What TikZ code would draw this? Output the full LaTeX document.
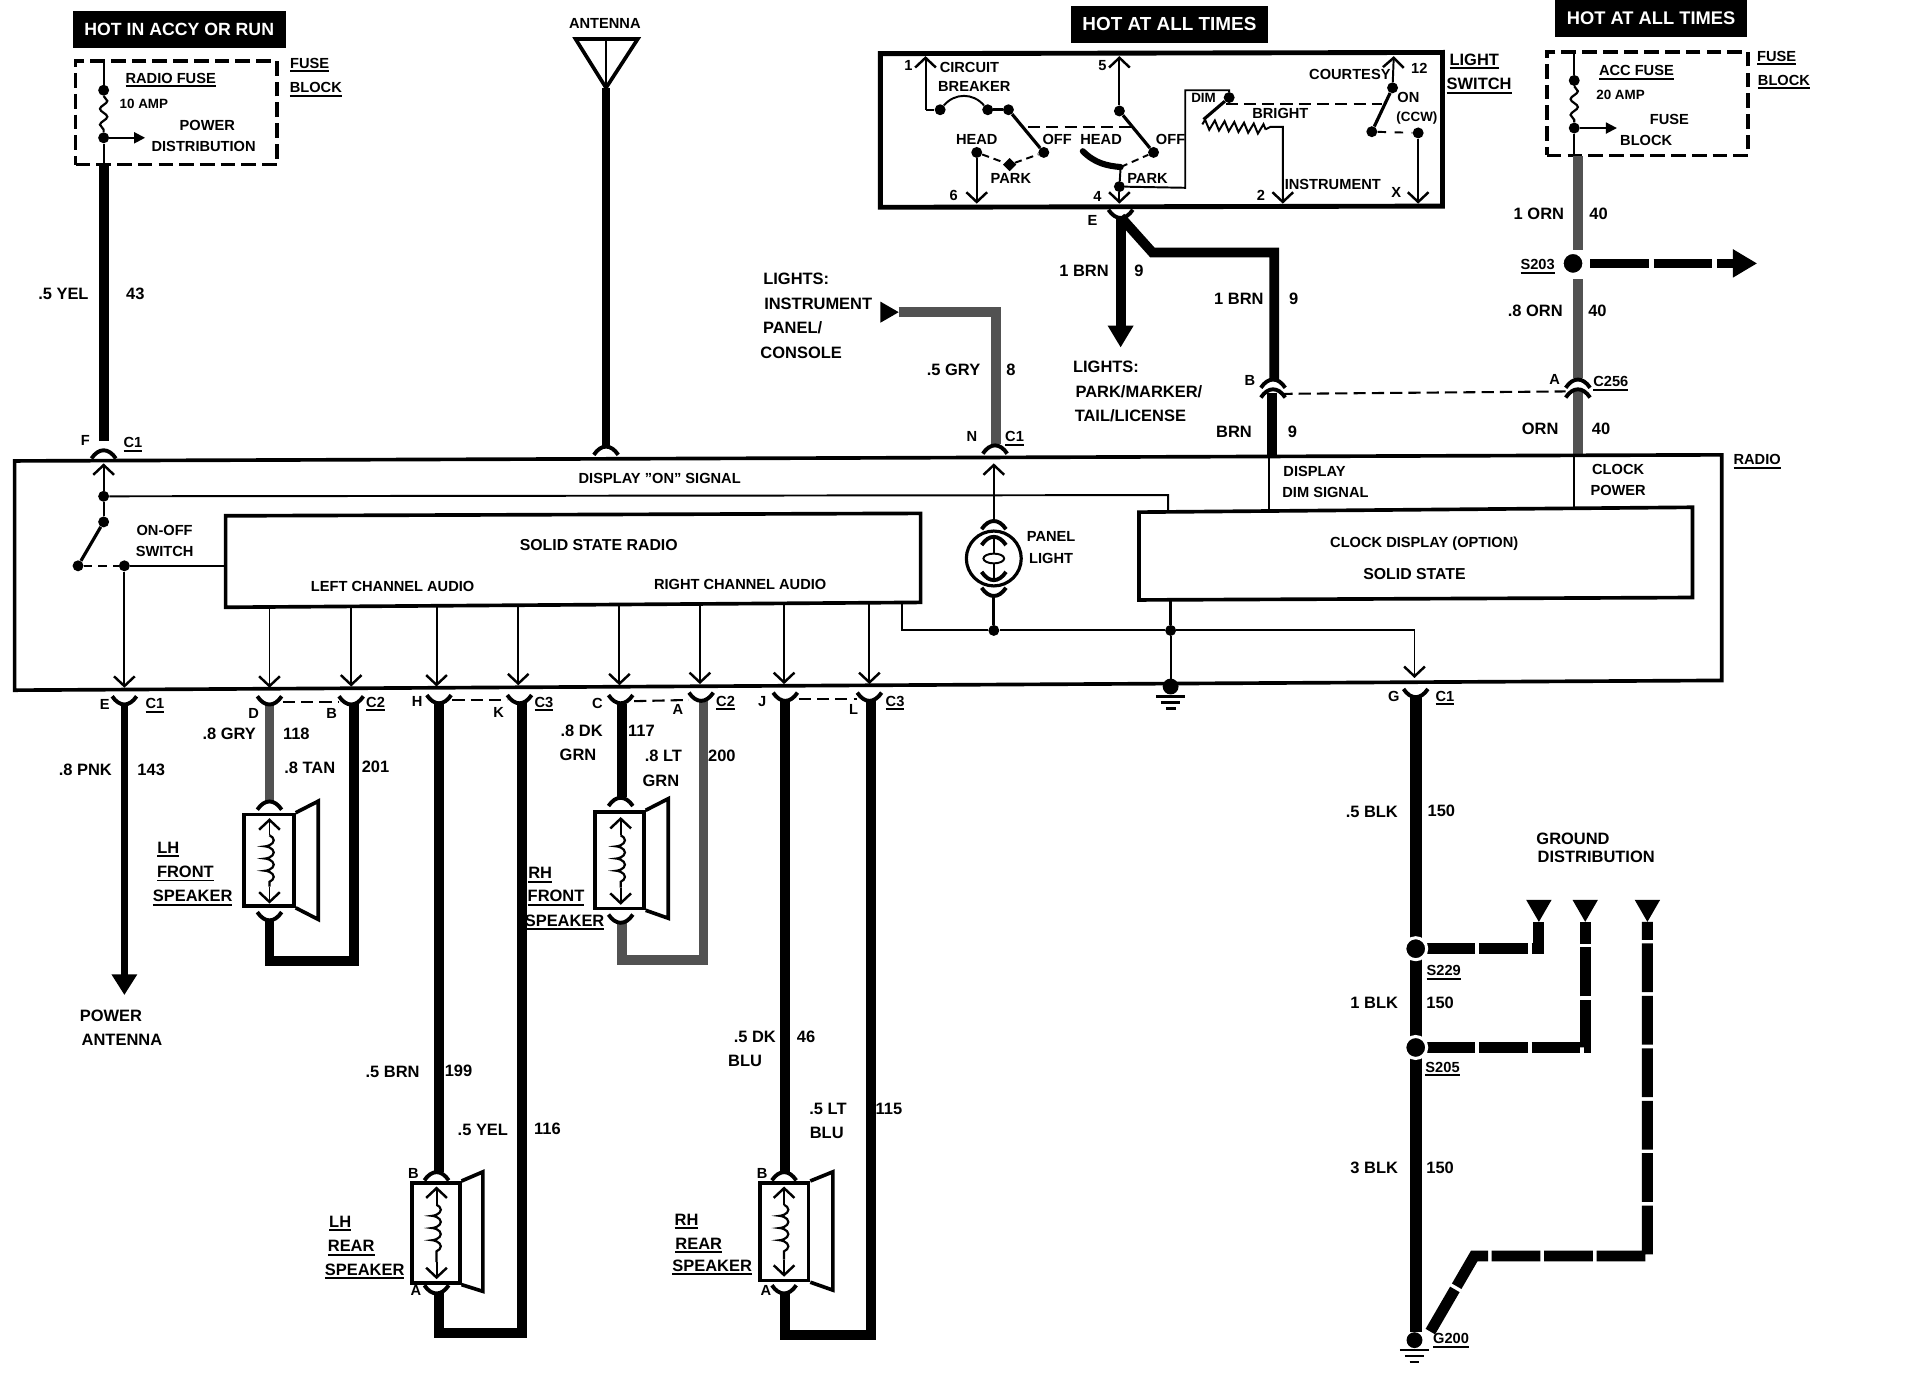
\documentclass[tikz,border=0pt]{standalone}
\usepackage{fontspec}
\setmainfont{Liberation Sans}
\usetikzlibrary{shapes,arrows.meta,decorations.pathmorphing,positioning}
\newcommand{\Under}[1]{\leavevmode\smash{\rlap{\vtop{\hbox{#1}\kern1.5pt\hrule height 1.6pt}}}\phantom{#1}}
\tikzset{
	CupY/.pic={\draw [line width=3.2pt] (-10,-6) .. controls (-4,3) and (4,3) .. (10,-6);},
	CupA/.pic={\draw [line width=3.2pt] (-10,6) .. controls (-4,-3) and (4,-3) .. (10,6);},
	Earth/.pic={
		\fill (0,0) circle (6.5);
		\draw [line width=2.2pt] (-12,8) -- (12,8);
		\draw [line width=2.2pt] (-8,13) -- (8,13);
		\draw [line width=2.2pt] (-4,18) -- (4,18);
	}
}

\begin{document}
\begin{tikzpicture}[x=1pt,y=-1pt]
	\tikzstyle{Lab}		= [inner sep=0pt, font=\fontsize{12}{14}\selectfont\bfseries]
	\tikzstyle{Tiny}	= [inner sep=0pt, font=\fontsize{11}{13}\selectfont\bfseries]
	\tikzstyle{WLab}	= [inner sep=0pt, font=\fontsize{13.5}{15}\selectfont\bfseries]
	\tikzstyle{Banner}	= [fill=black, text=white, inner sep=0pt, font=\fontsize{15}{17}\selectfont\bfseries]
	\tikzstyle{Joint}	= [circle, fill=black, minimum size=9pt, inner sep=0pt]
	\tikzstyle{Splice}	= [circle, fill=black, draw=white, line width=2.5pt, minimum size=18pt, inner sep=0pt]
	\tikzstyle{Diam}	= [diamond, fill=black, minimum size=11pt, inner sep=0pt]
	\tikzstyle{Tri}		= [regular polygon, regular polygon sides=3, fill=black, minimum size=24pt, inner sep=0pt]
	\tikzstyle{FuseEdge}	= [draw, line width=3pt, dash pattern=on 12pt off 5pt, inner sep=0pt]
	\tikzstyle{Edge}	= [line width=3pt]
	\tikzstyle{Feed}	= [line width=1.6pt]
	\tikzstyle{Probe}	= [line width=1.6pt, -{Straight Barb[length=8pt,width=17pt,line width=2pt]}]
	\tikzstyle{Lever}	= [line width=2.6pt]
	\tikzstyle{Link}	= [line width=1.7pt, dash pattern=on 10pt off 5pt]
	\tikzstyle{Wire}	= [line width=8pt]
	\tikzstyle{GWire}	= [line width=8pt, black!68]
	\tikzstyle{Heavy}	= [line width=10pt]
	\tikzstyle{Split}	= [line width=9pt, dash pattern=on 40pt off 3pt]
	\tikzstyle{Wave}	= [line width=1.8pt, decorate, decoration={snake, amplitude=3pt, segment length=13pt}]
	\tikzstyle{Coil}	= [line width=1.8pt, decorate, decoration={coil, aspect=0.45, amplitude=3.5pt, segment length=10pt}]
	\tikzstyle{Zig}		= [line width=1.6pt, decorate, decoration={zigzag, amplitude=4pt, segment length=8pt}]

	\useasboundingbox (0,0) rectangle (1568,1141.5);

	% banners and fuse blocks
	\node (hotRun) at (147,24) [Banner, minimum width=175pt, minimum height=30pt, font=\fontsize{14.5}{16}\selectfont\bfseries] {HOT IN ACCY OR RUN};
	\node (hotMid) at (959,20) [Banner, minimum width=162pt, minimum height=30pt, font=\fontsize{15.5}{17}\selectfont\bfseries] {HOT AT ALL TIMES};
	\node (hotAcc) at (1354,15) [Banner, minimum width=158pt, minimum height=30pt] {HOT AT ALL TIMES};
	\node (fuseL) at (144.5,92.5) [FuseEdge, minimum width=165pt, minimum height=85pt] {};
	\node (fuseR) at (1351,85) [FuseEdge, minimum width=165pt, minimum height=85pt] {};

	\coordinate (fuseLtop) at (85,50);
	\node (fuseL1) at (85,74) [Joint] {};
	\node (fuseL2) at (85,113) [Joint] {};
	\coordinate (fuseLout) at (119,113);
	\coordinate (fuseLbot) at (85,135);
	\coordinate (f1top) at (85,362);
	\draw (fuseLtop) to (fuseL1) [Feed];
	\draw (fuseL1) to (fuseL2) [Wave];
	\draw (fuseL2) to (fuseLout) [Feed, -{Triangle[length=9pt,width=9pt]}];
	\draw (fuseL2) to (fuseLbot) [Feed];
	\draw (fuseLbot) to (f1top) [Wire];

	\coordinate (fuseRtop) at (1291,42);
	\node (fuseR1) at (1291,66) [Joint] {};
	\node (fuseR2) at (1291,105) [Joint] {};
	\coordinate (fuseRout) at (1326,105);
	\coordinate (fuseRbot) at (1291,127);
	\draw (fuseRtop) to (fuseR1) [Feed];
	\draw (fuseR1) to (fuseR2) [Wave];
	\draw (fuseR2) to (fuseRout) [Feed, -{Triangle[length=9pt,width=9pt]}];
	\draw (fuseR2) to (fuseRbot) [Feed];

	% orange feed
	\coordinate (ornTop) at (1294,128);
	\node (s203) at (1290,216) [Splice] {};
	\coordinate (s203in) at (1294,205);
	\coordinate (s203out) at (1441,216);
	\coordinate (ornMid) at (1294,229);
	\coordinate (c256up) at (1294,310);
	\coordinate (c256lo) at (1294,320);
	\coordinate (ornBot) at (1294,373);
	\coordinate (s203tail) at (1304,216);
	\draw (ornTop) to (s203in) [GWire];
	\draw (s203tail) to (s203out) [line width=8pt, dash pattern=on 48pt off 4pt, -{Triangle[length=20pt,width=22pt]}];
	\draw (ornMid) to (c256up) [GWire];
	\draw (c256lo) to (ornBot) [GWire];
	\pic at (1294,312) {CupA};
	\pic at (1294,320) {CupA};

	% antenna
	\coordinate (antL) at (472,32);
	\coordinate (antR) at (523,32);
	\coordinate (antM) at (497,32);
	\coordinate (antA) at (497,72);
	\coordinate (antB) at (497,365);
	\draw (antL) -- (antR) -- (antA) -- cycle [Edge];
	\draw (antM) to (antA) [Feed];
	\draw (antA) to (antB) [line width=7pt];
	\pic at (497,367) {CupA};

	% light switch
	\coordinate (swTL) at (722,44);
	\coordinate (swTR) at (1183,43);
	\coordinate (swBR) at (1183,169);
	\coordinate (swBL) at (722,170);
	\draw (swTL) -- (swTR) -- (swBR) -- (swBL) -- cycle [line width=4pt];

	\coordinate (pin1) at (759,46);
	\coordinate (pin1k) at (759,90);
	\node (cbA) at (771,90) [Joint] {};
	\node (cbB) at (810,90) [Joint] {};
	\node (cbC) at (827,90) [Joint] {};
	\node (offA) at (856,125) [Joint] {};
	\node (headA) at (801,125) [Joint] {};
	\node (parkA) at (828,135) [Diam] {};
	\coordinate (pin6) at (801,167);
	\draw (pin1k) to (pin1) [Probe];
	\draw (pin1k) to (cbA) [Feed];
	\draw (cbA) .. controls (783,76) and (798,76) .. (cbB) [Feed];
	\draw (cbB) to (cbC) [Lever];
	\draw (cbC) to (offA) [Lever];
	\draw (headA) to (pin6) [Probe];
	\draw (headA) to (parkA) [Feed, dash pattern=on 6pt off 4pt];
	\draw (parkA) to (offA) [Feed, dash pattern=on 6pt off 4pt];

	\coordinate (pin5) at (918,46);
	\node (leverB) at (918,91) [Joint] {};
	\node (offB) at (946,125) [Joint] {};
	\coordinate (beamL) at (843,104);
	\coordinate (beamR) at (930,104);
	\coordinate (padL) at (888,124);
	\coordinate (padR) at (919,137);
	\node (hub4) at (918,153) [Joint] {};
	\coordinate (pin4) at (918,167);
	\draw (leverB) to (pin5) [Probe];
	\draw (leverB) to (offB) [Lever];
	\draw (beamL) to (beamR) [Link];
	\draw (padL) .. controls (898,134) and (908,136) .. (padR) [line width=5pt, line cap=round];
	\draw (padR) to (offB) [Feed, dash pattern=on 6pt off 4pt];
	\draw (padR) to (hub4) [Feed];
	\draw (hub4) to (pin4) [Probe];

	\coordinate (dimA) at (972,154);
	\coordinate (dimB) at (972,74);
	\coordinate (dimC) at (1008,74);
	\node (dimD) at (1008,80) [Joint] {};
	\coordinate (wipe) at (987,98);
	\coordinate (rheoA) at (986,102);
	\coordinate (rheoB) at (1038,106);
	\coordinate (rheoC) at (1042,104);
	\coordinate (rheoD) at (1052,104);
	\coordinate (pin2) at (1052,167);
	\coordinate (beamA) at (1005,85);
	\coordinate (beamB) at (1133,85);
	\draw (hub4) -- (dimA) -- (dimB) -- (dimC) -- (dimD) [Feed];
	\draw (dimD) to (wipe) [Lever];
	\draw (rheoA) to (rheoB) [Zig];
	\draw (rheoB) -- (rheoC) -- (rheoD) -- (pin2) [Probe];
	\draw (beamA) to (beamB) [Link];

	\coordinate (pin12) at (1143,46);
	\node (courtA) at (1142,72) [Joint] {};
	\node (courtB) at (1125,108) [Joint] {};
	\node (courtC) at (1163,109) [Joint] {};
	\coordinate (pinX) at (1163,167);
	\draw (courtA) to (pin12) [Probe];
	\draw (courtA) to (courtB) [Lever];
	\draw (courtB) to (courtC) [Feed, dash pattern=on 7pt off 7pt];
	\draw (courtC) to (pinX) [Probe];

	% brown feed below the switch
	\coordinate (brnE) at (919,178);
	\coordinate (brnKnee) at (945,207);
	\coordinate (brnCor) at (1045,207);
	\coordinate (brnB) at (1045,311);
	\coordinate (brnB2) at (1043,322);
	\coordinate (brnEnd) at (1043,375);
	\coordinate (brnTip) at (919,285);
	\draw (brnE) to (brnTip) [Wire, -{Triangle[length=18pt,width=20pt]}];
	\draw (brnE) -- (brnKnee) -- (brnCor) -- (brnB) [Wire];
	\draw (brnB2) to (brnEnd) [Wire];
	\pic at (919,178) {CupY};
	\pic at (1044,312) {CupA};
	\pic at (1044,320) {CupA};
	\coordinate (linkB) at (1050,323);
	\coordinate (linkA) at (1284,321);
	\draw (linkB) to (linkA) [Link];

	% instrument lights
	\node (trig) at (727,256) [Tri, shape border rotate=-90, minimum size=20pt] {};
	\coordinate (gryA) at (737,256);
	\coordinate (gryB) at (817,256);
	\coordinate (gryC) at (817,364);
	\draw (gryA) -- (gryB) -- (gryC) [GWire];
	\pic at (816,366) {CupA};

	% radio case
	\coordinate (caseTL) at (12,378);
	\coordinate (caseTR) at (1412,373);
	\coordinate (caseBR) at (1412,558);
	\coordinate (caseBL) at (12,566);
	\draw (caseTL) -- (caseTR) -- (caseBR) -- (caseBL) -- cycle [Edge];

	\coordinate (ssTL) at (185,423);
	\coordinate (ssTR) at (755,421);
	\coordinate (ssBR) at (755,494);
	\coordinate (ssBL) at (185,498);
	\draw (ssTL) -- (ssTR) -- (ssBR) -- (ssBL) -- cycle [Edge];

	\coordinate (ckTL) at (934,420);
	\coordinate (ckTR) at (1388,416);
	\coordinate (ckBR) at (1388,490);
	\coordinate (ckBL) at (934,492);
	\draw (ckTL) -- (ckTR) -- (ckBR) -- (ckBL) -- cycle [Edge];

	% on-off switch
	\coordinate (pinF) at (85,380);
	\node (onA) at (85,407) [Joint] {};
	\node (onB) at (85,428) [Joint] {};
	\node (onC) at (64,464) [Joint] {};
	\node (onD) at (102,464) [Joint] {};
	\coordinate (onE) at (185,464);
	\coordinate (pinE) at (102,564);
	\coordinate (sigC) at (958,406);
	\coordinate (sigD) at (958,420);
	\draw (onA) to (pinF) [Probe];
	\draw (onA) to (onB) [Feed];
	\draw (onB) to (onC) [Lever];
	\draw (onC) to (onD) [Feed, dash pattern=on 7pt off 5pt];
	\draw (onD) to (onE) [Feed];
	\draw (onD) to (pinE) [Probe];
	\draw (onA) -- (sigC) -- (sigD) [Feed];

	% audio outputs
	\coordinate (outD) at (221,497);
	\coordinate (outB) at (288,497);
	\coordinate (outH) at (358,497);
	\coordinate (outK) at (425,496);
	\coordinate (outC) at (508,496);
	\coordinate (outA) at (574,495);
	\coordinate (outJ) at (643,495);
	\coordinate (outL) at (713,494);
	\coordinate (pinD) at (221,564);
	\coordinate (pinB) at (288,563);
	\coordinate (pinH) at (358,563);
	\coordinate (pinK) at (425,562);
	\coordinate (pinC) at (508,562);
	\coordinate (pinA) at (574,561);
	\coordinate (pinJ) at (643,561);
	\coordinate (pinL) at (713,561);
	\draw (outD) to (pinD) [Probe];
	\draw (outB) to (pinB) [Probe];
	\draw (outH) to (pinH) [Probe];
	\draw (outK) to (pinK) [Probe];
	\draw (outC) to (pinC) [Probe];
	\draw (outA) to (pinA) [Probe];
	\draw (outJ) to (pinJ) [Probe];
	\draw (outL) to (pinL) [Probe];

	% panel light and return
	\coordinate (pinN) at (815,380);
	\coordinate (lampT) at (815,428);
	\node (lamp) at (815,458) [circle, draw, line width=2.6pt, minimum size=45pt, inner sep=0pt] {};
	\node (lens) at (815,458) [ellipse, draw, line width=1.6pt, minimum width=17pt, minimum height=8pt, inner sep=0pt] {};
	\coordinate (filT) at (815,441);
	\coordinate (filB) at (815,475);
	\coordinate (lampB) at (815,488);
	\node (retA) at (815,517) [Joint] {};
	\node (retB) at (960,517) [Joint] {};
	\coordinate (retC) at (740,494);
	\coordinate (retD) at (740,517);
	\coordinate (retE) at (1160,517);
	\coordinate (pinG) at (1160,556);
	\coordinate (ckOut) at (960,492);
	\coordinate (gndIn) at (960,560);
	\draw (lampT) to (pinN) [Probe];
	\draw (filT) to (lens) [Feed];
	\draw (lens) to (filB) [Feed];
	\draw (lampB) to (retA) [Lever];
	\draw (retC) -- (retD) -- (retA) [Feed];
	\draw (retA) to (retB) [Feed];
	\draw (retB) -- (retE) -- (pinG) [Probe];
	\draw (ckOut) to (retB) [Lever];
	\draw (retB) to (gndIn) [Feed];
	\pic at (815,428) {CupA};
	\pic at (815,441) {CupA};
	\pic at (815,475) {CupY};
	\pic at (815,488) {CupY};
	\pic at (960,563) {Earth};

	% display feeds
	\coordinate (dimTop) at (1041,375);
	\coordinate (dimBot) at (1041,419);
	\coordinate (clkTop) at (1291,373);
	\coordinate (clkBot) at (1291,417);
	\draw (dimTop) to (dimBot) [Feed];
	\draw (clkTop) to (clkBot) [Feed];

	% power antenna
	\pic at (102,577) {CupY};
	\pic at (85,370) {CupA};
	\coordinate (pnkTop) at (102,577);
	\coordinate (pnkTip) at (102,816);
	\draw (pnkTop) to (pnkTip) [line width=6pt, -{Triangle[length=17pt,width=20pt]}];

	% left front speaker
	\coordinate (lfTop) at (221,578);
	\coordinate (lfIn) at (221,658);
	\coordinate (lfOut) at (221,754);
	\coordinate (lfCor) at (221,788);
	\coordinate (lfCor2) at (290,788);
	\coordinate (lfEnd) at (290,577);
	\node (lfBox) at (220.5,705.5) [draw, line width=3pt, minimum width=41pt, minimum height=75pt, inner sep=0pt] {};
	\coordinate (lfHornT) at (261,657);
	\coordinate (lfHornB) at (261,754);
	\coordinate (lfCoilT) at (221,685);
	\coordinate (lfCoilB) at (221,727);
	\coordinate (lfArrT) at (221,671);
	\coordinate (lfArrB) at (221,741);
	\draw (lfTop) to (lfIn) [GWire];
	\draw (lfOut) -- (lfCor) -- (lfCor2) -- (lfEnd) [Wire];
	\draw (lfBox.north east) -- (lfHornT) -- (lfHornB) -- (lfBox.south east) [Edge];
	\draw (lfCoilT) to (lfCoilB) [Coil];
	\draw (lfCoilT) to (lfArrT) [Probe];
	\draw (lfCoilB) to (lfArrB) [Probe];
	\pic at (221,577) {CupY};
	\pic at (288,577) {CupY};
	\pic at (221,658) {CupA};
	\pic at (221,754) {CupY};
	\coordinate (lnkD) at (232,576);
	\coordinate (lnkB) at (278,576);
	\draw (lnkD) to (lnkB) [Link];

	% left rear speaker
	\coordinate (lrTop) at (360,576);
	\coordinate (lrIn) at (360,961);
	\coordinate (lrOut) at (360,1060);
	\coordinate (lrCor) at (360,1093);
	\coordinate (lrCor2) at (428,1093);
	\coordinate (lrEnd) at (428,576);
	\node (lrBox) at (357.5,1011) [draw, line width=3pt, minimum width=39pt, minimum height=82pt, inner sep=0pt] {};
	\coordinate (lrHornT) at (396,961);
	\coordinate (lrHornB) at (396,1059);
	\coordinate (lrCoilT) at (358,988);
	\coordinate (lrCoilB) at (358,1035);
	\coordinate (lrArrT) at (358,973);
	\coordinate (lrArrB) at (358,1049);
	\draw (lrTop) to (lrIn) [Wire];
	\draw (lrOut) -- (lrCor) -- (lrCor2) -- (lrEnd) [Wire];
	\draw (lrBox.north east) -- (lrHornT) -- (lrHornB) -- (lrBox.south east) [Edge];
	\draw (lrCoilT) to (lrCoilB) [Coil];
	\draw (lrCoilT) to (lrArrT) [Probe];
	\draw (lrCoilB) to (lrArrB) [Probe];
	\pic at (360,576) {CupY};
	\pic at (426,576) {CupY};
	\pic at (358,962) {CupA};
	\pic at (358,1060) {CupY};
	\coordinate (lnkH) at (371,574);
	\coordinate (lnkK) at (416,574);
	\draw (lnkH) to (lnkK) [Link];

	% right front speaker
	\coordinate (rfTop) at (510,577);
	\coordinate (rfIn) at (510,654);
	\coordinate (rfOut) at (510,756);
	\coordinate (rfCor) at (510,787);
	\coordinate (rfCor2) at (577,787);
	\coordinate (rfEnd) at (577,574);
	\node (rfBox) at (508,705.5) [draw, line width=3pt, minimum width=40pt, minimum height=79pt, inner sep=0pt] {};
	\coordinate (rfHornT) at (548,655);
	\coordinate (rfHornB) at (548,753);
	\coordinate (rfCoilT) at (509,685);
	\coordinate (rfCoilB) at (509,728);
	\coordinate (rfArrT) at (509,670);
	\coordinate (rfArrB) at (509,742);
	\draw (rfTop) to (rfIn) [Wire];
	\draw (rfOut) -- (rfCor) -- (rfCor2) -- (rfEnd) [GWire];
	\draw (rfBox.north east) -- (rfHornT) -- (rfHornB) -- (rfBox.south east) [Edge];
	\draw (rfCoilT) to (rfCoilB) [Coil];
	\draw (rfCoilT) to (rfArrT) [Probe];
	\draw (rfCoilB) to (rfArrB) [Probe];
	\pic at (509,576) {CupY};
	\pic at (575,574) {CupY};
	\pic at (509,655) {CupA};
	\pic at (509,756) {CupY};
	\coordinate (lnkC) at (520,575);
	\coordinate (lnkA) at (565,574);
	\draw (lnkC) to (lnkA) [Link];

	% right rear speaker
	\coordinate (rrTop) at (644,575);
	\coordinate (rrIn) at (644,961);
	\coordinate (rrOut) at (644,1060);
	\coordinate (rrCor) at (644,1095);
	\coordinate (rrCor2) at (714,1095);
	\coordinate (rrEnd) at (714,574);
	\node (rrBox) at (643,1010) [draw, line width=3pt, minimum width=40pt, minimum height=80pt, inner sep=0pt] {};
	\coordinate (rrHornT) at (683,961);
	\coordinate (rrHornB) at (683,1058);
	\coordinate (rrCoilT) at (643,988);
	\coordinate (rrCoilB) at (643,1033);
	\coordinate (rrArrT) at (643,973);
	\coordinate (rrArrB) at (643,1047);
	\draw (rrTop) to (rrIn) [Wire];
	\draw (rrOut) -- (rrCor) -- (rrCor2) -- (rrEnd) [Wire];
	\draw (rrBox.north east) -- (rrHornT) -- (rrHornB) -- (rrBox.south east) [Edge];
	\draw (rrCoilT) to (rrCoilB) [Coil];
	\draw (rrCoilT) to (rrArrT) [Probe];
	\draw (rrCoilB) to (rrArrB) [Probe];
	\pic at (644,574) {CupY};
	\pic at (713,574) {CupY};
	\pic at (643,962) {CupA};
	\pic at (643,1060) {CupY};
	\coordinate (lnkJ) at (655,573);
	\coordinate (lnkL) at (703,573);
	\draw (lnkJ) to (lnkL) [Link];

	% ground run
	\coordinate (blkTop) at (1161,570);
	\coordinate (blkBot) at (1161,1092);
	\coordinate (g1c) at (1262,778);
	\coordinate (g2c) at (1300,859);
	\coordinate (g3a) at (1173,1092);
	\coordinate (g3b) at (1209,1030);
	\coordinate (g3c) at (1351,1030);
	\node (g1) at (1262,744) [Tri, shape border rotate=180] {};
	\node (g2) at (1300,744) [Tri, shape border rotate=180] {};
	\node (g3) at (1351,744) [Tri, shape border rotate=180] {};
	\coordinate (g1e) at (1262,756);
	\coordinate (g2e) at (1300,756);
	\coordinate (g3e) at (1351,756);
	\coordinate (s229o) at (1170,778);
	\coordinate (s205o) at (1170,859);
	\draw (blkTop) to (blkBot) [Heavy];
	\draw (s229o) -- (g1c) -- (g1e) [Split];
	\draw (s205o) -- (g2c) -- (g2e) [Split];
	\draw (g3a) -- (g3b) -- (g3c) -- (g3e) [Split];
	\node (s229) at (1161,778) [Splice] {};
	\node (s205) at (1161,859) [Splice] {};
	\pic at (1161,571) {CupY};
	\pic at (1160,1099) {Earth};

	% labels, top row
	\node (tFuse1) at (254,52) [Lab] {\Under{FUSE}};
	\node (tBlock1) at (259,72) [Lab] {\Under{BLOCK}};
	\node (tRadFuse) at (140,64) [Lab] {\Under{RADIO FUSE}};
	\node (t10amp) at (118,85) [Tiny] {10 AMP};
	\node (tPower) at (170,103) [Lab] {POWER};
	\node (tDistr) at (167,120) [Lab] {DISTRIBUTION};
	\node (tAntenna) at (496,19) [Lab] {ANTENNA};
	\node (tLight) at (1209,49) [WLab] {\Under{LIGHT}};
	\node (tSwitch) at (1213,69) [WLab] {\Under{SWITCH}};
	\node (tAccFuse) at (1342,58) [Lab] {\Under{ACC FUSE}};
	\node (t20amp) at (1329,78) [Tiny] {20 AMP};
	\node (tFuseIn) at (1369,98) [Lab] {FUSE};
	\node (tBlockIn) at (1350,115) [Lab] {BLOCK};
	\node (tFuse2) at (1457,46) [Lab] {\Under{FUSE}};
	\node (tBlock2) at (1463,66) [Lab] {\Under{BLOCK}};

	% labels, light switch
	\node (t1) at (745,54) [Lab] {1};
	\node (tCircuit) at (795,55) [Lab] {CIRCUIT};
	\node (tBreaker) at (799,71) [Lab] {BREAKER};
	\node (tHead1) at (801,114) [Lab] {HEAD};
	\node (tOff1) at (867,114) [Lab] {OFF};
	\node (tHead2) at (903,114) [Lab] {HEAD};
	\node (tOff2) at (960,114) [Lab] {OFF};
	\node (tPark1) at (829,146) [Lab] {PARK};
	\node (tPark2) at (941,146) [Lab] {PARK};
	\node (t5) at (904,54) [Lab] {5};
	\node (t6) at (782,160) [Lab] {6};
	\node (t4) at (900,161) [Lab] {4};
	\node (t2) at (1034,160) [Lab] {2};
	\node (tX) at (1145,158) [Lab] {X};
	\node (t12) at (1164,56) [Lab] {12};
	\node (tDim) at (987,80) [Tiny] {DIM};
	\node (tBright) at (1050,93) [Lab] {BRIGHT};
	\node (tCourtesy) at (1107,61) [Lab] {COURTESY};
	\node (tOn) at (1155,80) [Lab] {ON};
	\node (tCcw) at (1162,97) [Tiny] {(CCW)};
	\node (tInstr) at (1093,151) [Lab] {INSTRUMENT};

	% labels, feeds above the radio
	\node (tYel) at (52,241) [WLab] {.5 YEL};
	\node (t43) at (111,241) [WLab] {43};
	\node (tF) at (70,361) [Lab] {F};
	\node (tC1f) at (109,363) [Lab] {\Under{C1}};
	\node (tLights) at (653,229) [WLab] {LIGHTS:};
	\node (tInst) at (671,249) [WLab] {INSTRUMENT};
	\node (tPanel) at (650,269) [WLab] {PANEL/};
	\node (tConsole) at (657,289) [WLab] {CONSOLE};
	\node (tGry) at (782,303) [WLab] {.5 GRY};
	\node (t8) at (829,303) [WLab] {8};
	\node (tN) at (797,358) [Lab] {N};
	\node (tC1n) at (832,358) [Lab] {\Under{C1}};
	\node (tE1) at (896,181) [Lab] {E};
	\node (tBrn1) at (889,222) [WLab] {1 BRN};
	\node (t91) at (934,222) [WLab] {9};
	\node (tBrn2) at (1016,245) [WLab] {1 BRN};
	\node (t92) at (1061,245) [WLab] {9};
	\node (tLights2) at (907,301) [WLab] {LIGHTS:};
	\node (tParkM) at (934,321) [WLab] {PARK/MARKER/};
	\node (tTail) at (927,341) [WLab] {TAIL/LICENSE};
	\node (tB1) at (1025,312) [Lab] {B};
	\node (tBrn3) at (1012,354) [WLab] {BRN};
	\node (t93) at (1060,354) [WLab] {9};
	\node (tOrn1) at (1262,175) [WLab] {1 ORN};
	\node (t401) at (1311,175) [WLab] {40};
	\node (tS203) at (1261,217) [Lab] {\Under{S203}};
	\node (tOrn2) at (1259,255) [WLab] {.8 ORN};
	\node (t402) at (1310,255) [WLab] {40};
	\node (tA1) at (1275,311) [Lab] {A};
	\node (tC256) at (1321,313) [Lab] {\Under{C256}};
	\node (tOrn3) at (1263,352) [WLab] {ORN};
	\node (t403) at (1313,352) [WLab] {40};

	% labels, radio
	\node (tRadio) at (1441,377) [Lab] {\Under{RADIO}};
	\node (tOnSig) at (541,392) [Lab] {DISPLAY "ON" SIGNAL};
	\node (tOnOff) at (135,435) [Lab] {ON-OFF};
	\node (tSwitch2) at (135,452) [Lab] {SWITCH};
	\node (tSolid) at (491,447) [Lab, font=\fontsize{13}{15}\selectfont\bfseries] {SOLID STATE RADIO};
	\node (tLeft) at (322,481) [Lab] {LEFT CHANNEL AUDIO};
	\node (tRight) at (607,479) [Lab] {RIGHT CHANNEL AUDIO};
	\node (tPanel2) at (862,440) [Lab] {PANEL};
	\node (tLight2) at (862,458) [Lab] {LIGHT};
	\node (tDisplay) at (1078,387) [Lab] {DISPLAY};
	\node (tDimSig) at (1087,404) [Lab] {DIM SIGNAL};
	\node (tClock) at (1327,385) [Lab] {CLOCK};
	\node (tPower2) at (1327,402) [Lab] {POWER};
	\node (tClockD) at (1168,446) [Lab] {CLOCK DISPLAY (OPTION)};
	\node (tSolid2) at (1160,471) [Lab, font=\fontsize{13}{15}\selectfont\bfseries] {SOLID STATE};

	% labels, below the radio
	\node (tE) at (86,578) [Lab] {E};
	\node (tC1e) at (127,577) [Lab] {\Under{C1}};
	\node (tPnk) at (70,631) [WLab] {.8 PNK};
	\node (t143) at (124,631) [WLab] {143};
	\node (tPower3) at (91,833) [WLab] {POWER};
	\node (tAnt2) at (100,853) [WLab] {ANTENNA};
	\node (tD) at (208,585) [Lab] {D};
	\node (tB2) at (272,585) [Lab] {B};
	\node (tC2a) at (308,576) [Lab] {\Under{C2}};
	\node (tGry2) at (188,602) [WLab] {.8 GRY};
	\node (t118) at (243,602) [WLab] {118};
	\node (tTan) at (254,630) [WLab] {.8 TAN};
	\node (t201) at (308,629) [WLab] {201};
	\node (tLh1) at (138,695) [WLab] {\Under{LH}};
	\node (tFront1) at (152,715) [WLab] {\Under{FRONT}};
	\node (tSpk1) at (158,735) [WLab] {\Under{SPEAKER}};
	\node (tH) at (342,575) [Lab] {H};
	\node (tK) at (409,584) [Lab] {K};
	\node (tC3a) at (446,576) [Lab] {\Under{C3}};
	\node (tBrn4) at (322,879) [WLab] {.5 BRN};
	\node (t199) at (376,878) [WLab] {199};
	\node (tYel2) at (396,927) [WLab] {.5 YEL};
	\node (t116) at (449,926) [WLab] {116};
	\node (tB3) at (339,962) [Lab] {B};
	\node (tA2) at (341,1058) [Lab] {A};
	\node (tLh2) at (279,1002) [WLab] {\Under{LH}};
	\node (tRear1) at (288,1022) [WLab] {\Under{REAR}};
	\node (tSpk2) at (299,1041) [WLab] {\Under{SPEAKER}};
	\node (tC) at (490,577) [Lab] {C};
	\node (tA3) at (556,582) [Lab] {A};
	\node (tC2b) at (595,575) [Lab] {\Under{C2}};
	\node (tDk) at (477,599) [WLab] {.8 DK};
	\node (tGrn1) at (474,619) [WLab] {GRN};
	\node (t117) at (526,599) [WLab] {117};
	\node (tLt) at (544,620) [WLab] {.8 LT};
	\node (tGrn2) at (542,640) [WLab] {GRN};
	\node (t200) at (592,620) [WLab] {200};
	\node (tRh1) at (443,716) [WLab] {\Under{RH}};
	\node (tFront2) at (456,735) [WLab] {\Under{FRONT}};
	\node (tSpk3) at (463,755) [WLab] {\Under{SPEAKER}};
	\node (tJ) at (625,575) [Lab] {J};
	\node (tL) at (700,582) [Lab] {L};
	\node (tC3b) at (734,575) [Lab] {\Under{C3}};
	\node (tDk2) at (619,850) [WLab] {.5 DK};
	\node (t46) at (661,850) [WLab] {46};
	\node (tBlu1) at (611,870) [WLab] {BLU};
	\node (tLt2) at (679,909) [WLab] {.5 LT};
	\node (t115) at (729,909) [WLab] {115};
	\node (tBlu2) at (678,929) [WLab] {BLU};
	\node (tB4) at (625,962) [Lab] {B};
	\node (tA4) at (628,1058) [Lab] {A};
	\node (tRh2) at (563,1000) [WLab] {\Under{RH}};
	\node (tRear2) at (573,1020) [WLab] {\Under{REAR}};
	\node (tSpk4) at (584,1038) [WLab] {\Under{SPEAKER}};

	% labels, ground run
	\node (tG) at (1143,571) [Lab] {G};
	\node (tC1g) at (1185,571) [Lab] {\Under{C1}};
	\node (tBlk1) at (1125,666) [WLab] {.5 BLK};
	\node (t1501) at (1182,665) [WLab] {150};
	\node (tS229) at (1184,796) [Lab] {\Under{S229}};
	\node (tBlk2) at (1127,822) [WLab] {1 BLK};
	\node (t1502) at (1181,822) [WLab] {150};
	\node (tS205) at (1183,875) [Lab] {\Under{S205}};
	\node (tBlk3) at (1127,958) [WLab] {3 BLK};
	\node (t1503) at (1181,958) [WLab] {150};
	\node (tGround) at (1290,688) [WLab] {GROUND};
	\node (tDistr2) at (1309,703) [WLab] {DISTRIBUTION};
	\node (tG200) at (1190,1098) [Lab] {\Under{G200}};
\end{tikzpicture}
\end{document}
